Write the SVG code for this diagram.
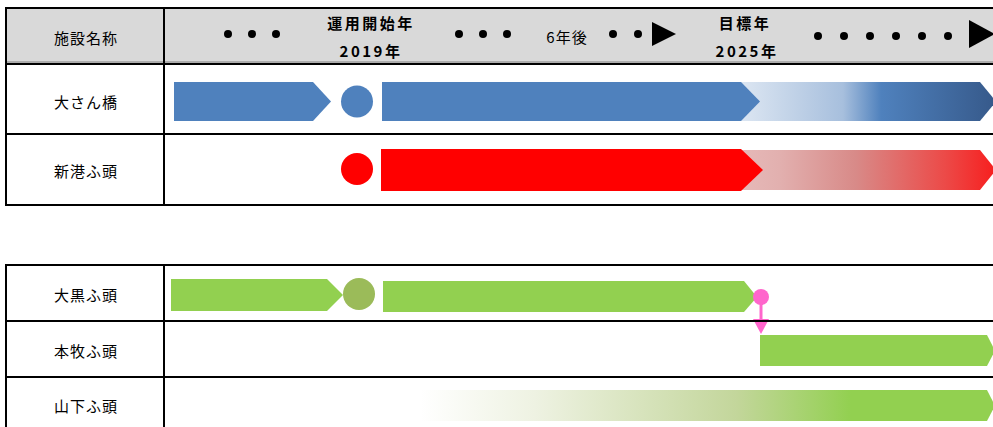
<svg xmlns="http://www.w3.org/2000/svg" width="993" height="427" viewBox="0 0 993 427">
<style>
text{font-family:"Noto Sans CJK JP","Noto Sans CJK SC",sans-serif;fill:#000;text-anchor:middle;dominant-baseline:central}
.lbl{font-size:15px;letter-spacing:1px}
.hd{font-size:15px;font-weight:bold;letter-spacing:2.5px}
.grid{stroke:#000;stroke-width:2;fill:none}
.dot{fill:#000}
</style>
<defs>
<linearGradient id="gBlue" x1="0" x2="1" y1="0" y2="0">
<stop offset="0" stop-color="#dce6f2"/>
<stop offset="0.4" stop-color="#a7bfdd"/>
<stop offset="0.55" stop-color="#4f81bd"/>
<stop offset="1" stop-color="#36598a"/>
</linearGradient>
<linearGradient id="gRed" x1="0" x2="1" y1="0" y2="0">
<stop offset="0" stop-color="#e6b9b8"/>
<stop offset="0.15" stop-color="#e2b0af"/>
<stop offset="0.45" stop-color="#d88a88"/>
<stop offset="0.8" stop-color="#ec4a48"/>
<stop offset="1" stop-color="#f71e1e"/>
</linearGradient>
<linearGradient id="gGreen" x1="0" x2="1" y1="0" y2="0">
<stop offset="0" stop-color="#ffffff"/>
<stop offset="0.2" stop-color="#eef2e2"/>
<stop offset="0.55" stop-color="#c3d69b"/>
<stop offset="0.75" stop-color="#92d050"/>
<stop offset="1" stop-color="#92d050"/>
</linearGradient>
</defs>

<g id="header">
<rect x="6" y="7" width="990" height="56" fill="#d9d9d9"/>
<line x1="6" y1="62" x2="993" y2="62" stroke="#808080" stroke-width="1"/>
<text class="lbl" x="86" y="37">施設名称</text>
<g class="dot">
<circle cx="228" cy="34" r="4"/><circle cx="252" cy="34" r="4"/><circle cx="276" cy="34" r="4"/>
<circle cx="459" cy="34" r="4"/><circle cx="483" cy="34" r="4"/><circle cx="507" cy="34" r="4"/>
<circle cx="613" cy="34" r="4"/><circle cx="638" cy="34" r="4"/>
<circle cx="818" cy="36" r="4"/><circle cx="844" cy="36" r="4"/><circle cx="870" cy="36" r="4"/><circle cx="896" cy="36" r="4"/><circle cx="922" cy="36" r="4"/><circle cx="948" cy="36" r="4"/>
</g>
<polygon points="652,22 676,34 652,46" fill="#000"/>
<polygon points="969,20 995,34 969,48" fill="#000"/>
<text class="hd" x="371" y="22">運用開始年</text>
<text class="hd" x="371" y="50">2019年</text>
<text class="lbl" x="567" y="36">6年後</text>
<text class="hd" x="745" y="22">目標年</text>
<text class="hd" x="747" y="50">2025年</text>
</g>

<g id="row-osanbashi">
<text class="lbl" x="86" y="101">大さん橋</text>
<polygon points="174,82 313,82 331,101.5 313,121 174,121" fill="#4f81bd"/>
<circle cx="357" cy="101.5" r="16" fill="#4f81bd"/>
<polygon points="741,82 980,82 996,101.5 980,121 741,121" fill="url(#gBlue)"/>
<polygon points="382,82 741,82 760,101.5 741,121 382,121" fill="#4f81bd"/>
</g>

<g id="row-shinko">
<text class="lbl" x="86" y="170">新港ふ頭</text>
<circle cx="357" cy="169" r="16" fill="#ff0000"/>
<polygon points="741,150 980,150 996,170 980,190 741,190" fill="url(#gRed)"/>
<polygon points="381,149 741,149 763,170 741,191 381,191" fill="#ff0000"/>
</g>

<g id="row-daikoku">
<text class="lbl" x="86" y="294">大黒ふ頭</text>
<polygon points="171,279 327,279 343,295 327,311 171,311" fill="#92d050"/>
<circle cx="359" cy="294" r="16" fill="#9bbb59"/>
<polygon points="383,281 744,281 757,297 744,312 383,312" fill="#92d050"/>
</g>

<g id="row-honmoku">
<text class="lbl" x="86" y="350">本牧ふ頭</text>
<polygon points="760,335 987,335 995,350.5 987,366 760,366" fill="#92d050"/>
</g>

<g id="row-yamashita">
<text class="lbl" x="86" y="405">山下ふ頭</text>
<polygon points="420,390 987,390 995,405.5 987,421 420,421" fill="url(#gGreen)"/>
</g>

<g id="connectors">
<line x1="761" y1="297" x2="761" y2="322" stroke="#ff66cc" stroke-width="3"/>
<circle cx="761" cy="297" r="8" fill="#ff66cc"/>
<polygon points="753,319 769,319 761,334" fill="#ff66cc"/>
</g>

<g id="grid">
<line class="grid" x1="5" y1="8" x2="993" y2="8"/>
<line class="grid" x1="5" y1="64" x2="993" y2="64"/>
<line class="grid" x1="5" y1="134" x2="993" y2="134"/>
<line class="grid" x1="5" y1="205" x2="993" y2="205"/>
<line class="grid" x1="6" y1="7" x2="6" y2="206"/>
<line class="grid" x1="164" y1="7" x2="164" y2="206"/>
<line class="grid" x1="5" y1="265" x2="993" y2="265"/>
<line class="grid" x1="5" y1="321" x2="993" y2="321"/>
<line class="grid" x1="5" y1="377" x2="993" y2="377"/>
<line class="grid" x1="6" y1="264" x2="6" y2="427"/>
<line class="grid" x1="164" y1="264" x2="164" y2="427"/>
</g>
</svg>
